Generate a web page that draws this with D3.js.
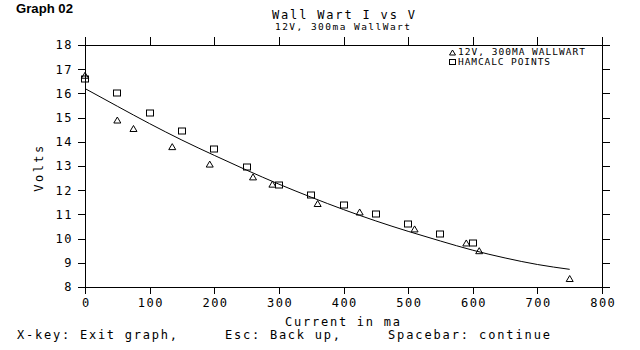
<!DOCTYPE html>
<html><head><meta charset="utf-8">
<script src="https://cdn.jsdelivr.net/npm/d3@7"></script>
<style>
html,body{margin:0;padding:0;background:#fff;}
svg{display:block;}
text{fill:#000;}
</style>
</head><body>
<svg id="chart" width="640" height="350"></svg>
<script>
// ---- data ----
const xTicks = [0,100,200,300,400,500,600,700,800];
const yTicks = [8,9,10,11,12,13,14,15,16,17,18];
const wallwartCurrent = [0, 50, 75, 135, 193, 260, 290, 360, 425, 510, 590, 610, 750];
const wallwartVolts   = [16.75, 14.9, 14.55, 13.8, 13.08, 12.55, 12.25, 11.45, 11.1, 10.4, 9.82, 9.5, 8.35];
const hamcalcCurrent  = [0, 50, 100, 150, 200, 250, 300, 350, 400, 450, 500, 550, 600];
const hamcalcVolts    = [16.6, 16.0, 15.2, 14.45, 13.7, 12.95, 12.2, 11.8, 11.4, 11.0, 10.6, 10.2, 9.8];
const fitCurrent = [0,50,100,150,200,250,300,350,400,450,500,550,600,650,700,750];
const fitVolts   = [16.2,15.47,14.75,14.07,13.44,12.83,12.25,11.71,11.2,10.73,10.3,9.9,9.52,9.2,8.93,8.73];
const legendLabels = ["12V, 300MA WALLWART","HAMCALC POINTS"];

const svg = d3.select("#chart");
const mono = "'DejaVu Sans Mono', monospace";
const x = d3.scaleLinear().domain([0,800]).range([85,602]);
const y = d3.scaleLinear().domain([8,18]).range([287,45]);

// frame
svg.append("rect").attr("x",x(0)).attr("y",y(18)).attr("width",x(800)-x(0)).attr("height",y(8)-y(18))
  .attr("fill","none").attr("stroke","#000").attr("stroke-width",1).attr("shape-rendering","crispEdges");

function styleAxis(g){
  g.select(".domain").remove();
  g.selectAll(".tick line").attr("stroke","#000").attr("shape-rendering","crispEdges");
  g.selectAll("text").attr("font-family",mono).attr("font-size",12).attr("fill","#000");
}
svg.append("g").attr("transform",`translate(0,${y(8)})`)
  .call(d3.axisBottom(x).tickValues(xTicks).tickSize(7).tickPadding(4).tickFormat(d3.format("d")))
  .call(styleAxis).selectAll("text").attr("letter-spacing","1.5px").attr("dx","0.75px");
svg.append("g").attr("transform",`translate(0,${y(18)})`)
  .call(d3.axisTop(x).tickValues(xTicks).tickSize(8).tickFormat(""))
  .call(styleAxis);
svg.append("g").attr("transform",`translate(${x(0)},0)`)
  .call(d3.axisLeft(y).tickValues(yTicks).tickSize(7).tickPadding(5).tickFormat(d3.format("d")))
  .call(styleAxis).selectAll("text").attr("letter-spacing","1.5px");
svg.append("g").attr("transform",`translate(${x(800)},0)`)
  .call(d3.axisRight(y).tickValues(yTicks).tickSize(8).tickFormat(""))
  .call(styleAxis);

// fit line
const fit = fitCurrent.map((c,i)=>[c,fitVolts[i]]);
svg.append("path").datum(fit)
  .attr("d",d3.line().x(d=>x(d[0])).y(d=>y(d[1])).curve(d3.curveMonotoneX))
  .attr("fill","none").attr("stroke","#000").attr("stroke-width",1);

// markers
const tri = (cx,cy,w,h)=>`M${cx-w/2},${cy+h/2}L${cx},${cy-h/2}L${cx+w/2},${cy+h/2}Z`;
svg.append("g").selectAll("path").data(wallwartCurrent.map((c,i)=>[c,wallwartVolts[i]])).join("path")
  .attr("d",d=>tri(x(d[0]),y(d[1]),7,6))
  .attr("fill","none").attr("stroke","#000").attr("stroke-width",1);
svg.append("g").selectAll("rect").data(hamcalcCurrent.map((c,i)=>[c,hamcalcVolts[i]])).join("rect")
  .attr("x",d=>Math.round(x(d[0]))-3.5).attr("y",d=>Math.round(y(d[1]))-3)
  .attr("width",7).attr("height",6)
  .attr("fill","none").attr("stroke","#000").attr("stroke-width",1);

// legend
svg.append("path").attr("d",tri(452.5,52.5,6,5)).attr("fill","none").attr("stroke","#000");
svg.append("rect").attr("x",449.5).attr("y",59.5).attr("width",6).attr("height",5).attr("fill","none").attr("stroke","#000");
svg.append("text").attr("x",458).attr("y",55).attr("font-family",mono).attr("font-size",9.5)
  .attr("textLength",127).attr("lengthAdjust","spacing").text(legendLabels[0]);
svg.append("text").attr("x",458).attr("y",64.5).attr("font-family",mono).attr("font-size",9.5)
  .attr("textLength",92).attr("lengthAdjust","spacing").text(legendLabels[1]);

// titles & labels
svg.append("text").attr("x",16).attr("y",13).attr("font-family","'Liberation Sans', Arial, sans-serif")
  .attr("font-weight","bold").attr("font-size",13.5).attr("textLength",57).attr("lengthAdjust","spacingAndGlyphs").text("Graph 02");
svg.append("text").attr("x",272).attr("y",18.5).attr("font-family",mono).attr("font-size",12)
  .attr("textLength",143).attr("lengthAdjust","spacing").text("Wall Wart I vs V");
svg.append("text").attr("x",275).attr("y",30).attr("font-family",mono).attr("font-size",9.5)
  .attr("textLength",135).attr("lengthAdjust","spacing").text("12V, 300ma WallWart");
svg.append("text").attr("x",285).attr("y",326).attr("font-family",mono).attr("font-size",12)
  .attr("textLength",115).attr("lengthAdjust","spacing").text("Current in ma");
svg.append("text").attr("transform","translate(43,167.5) rotate(-90)").attr("text-anchor","middle")
  .attr("font-family",mono).attr("font-size",12).attr("letter-spacing","2.5px").text("Volts");

svg.append("text").attr("x",17).attr("y",339).attr("font-family",mono).attr("font-size",12)
  .attr("textLength",160).attr("lengthAdjust","spacing").text("X-key: Exit graph,");
svg.append("text").attr("x",225).attr("y",339).attr("font-family",mono).attr("font-size",12)
  .attr("textLength",115).attr("lengthAdjust","spacing").text("Esc: Back up,");
svg.append("text").attr("x",388).attr("y",339).attr("font-family",mono).attr("font-size",12)
  .attr("textLength",162).attr("lengthAdjust","spacing").text("Spacebar: continue");
</script>
</body></html>
